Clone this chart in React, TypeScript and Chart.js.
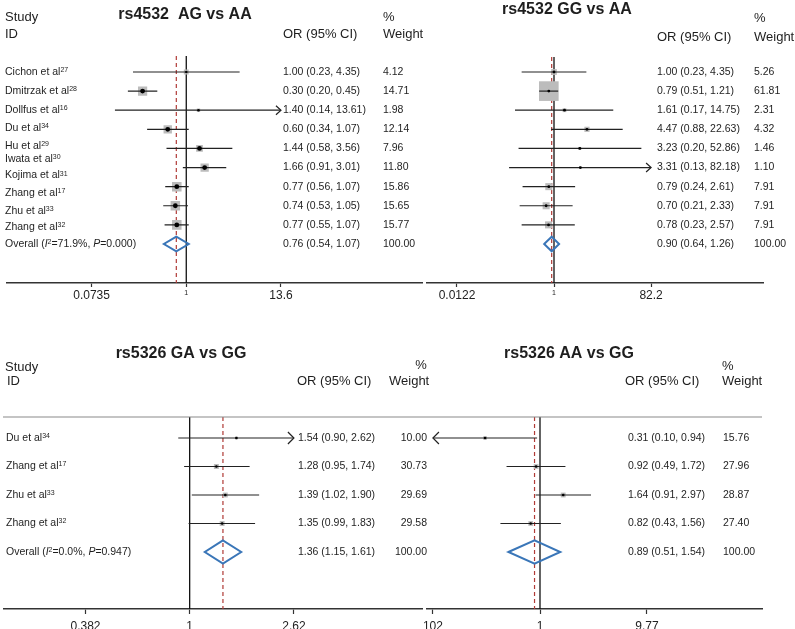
import React, { useEffect, useRef } from "react";
import { Chart, registerables } from "chart.js";

Chart.register(...registerables);

const FONT = '"Liberation Sans", Arial, Helvetica, sans-serif';
const W = 795;
const H = 660;
const AXIS_H = 24;

// ---------- Panel 1: rs4532 AG vs AA ----------
const p1Studies = ["Cichon et al", "Dmitrzak et al", "Dollfus et al", "Du et al", "Hu et al", "Iwata et al", "Kojima et al", "Zhang et al", "Zhu et al", "Zhang et al"];
const p1Refs = ["27", "28", "16", "34", "29", "30", "31", "17", "33", "32"];
const p1OR = [1.0, 0.3, 1.4, 0.6, 1.44, 1.66, 0.77, 0.74, 0.77];
const p1Lower = [0.23, 0.2, 0.14, 0.34, 0.58, 0.91, 0.56, 0.53, 0.55];
const p1Upper = [4.35, 0.45, 13.61, 1.07, 3.56, 3.01, 1.07, 1.05, 1.07];
const p1Weight = [4.12, 14.71, 1.98, 12.14, 7.96, 11.8, 15.86, 15.65, 15.77];
const p1Overall = [0.76, 0.54, 1.07];
const p1Het = ["71.9%", "0.000"];
const p1Ticks = [0.0735, 1, 13.6];
const p1TickLabels = ["0.0735", "1", "13.6"];

// ---------- Panel 2: rs4532 GG vs AA ----------
const p2OR = [1.0, 0.79, 1.61, 4.47, 3.23, 3.31, 0.79, 0.7, 0.78];
const p2Lower = [0.23, 0.51, 0.17, 0.88, 0.2, 0.13, 0.24, 0.21, 0.23];
const p2Upper = [4.35, 1.21, 14.75, 22.63, 52.86, 82.18, 2.61, 2.33, 2.57];
const p2Weight = [5.26, 61.81, 2.31, 4.32, 1.46, 1.1, 7.91, 7.91, 7.91];
const p2Overall = [0.9, 0.64, 1.26];
const p2Ticks = [0.0122, 1, 82.2];
const p2TickLabels = ["0.0122", "1", "82.2"];

// ---------- Panel 3: rs5326 GA vs GG ----------
const p3Studies = ["Du et al", "Zhang et al", "Zhu et al", "Zhang et al"];
const p3Refs = ["34", "17", "33", "32"];
const p3OR = [1.54, 1.28, 1.39, 1.35];
const p3Lower = [0.9, 0.95, 1.02, 0.99];
const p3Upper = [2.62, 1.74, 1.9, 1.83];
const p3Weight = [10.0, 30.73, 29.69, 29.58];
const p3Overall = [1.36, 1.15, 1.61];
const p3Het = ["0.0%", "0.947"];
const p3Ticks = [0.382, 1, 2.62];
const p3TickLabels = ["0.382", "1", "2.62"];

// ---------- Panel 4: rs5326 AA vs GG ----------
const p4OR = [0.31, 0.92, 1.64, 0.82];
const p4Lower = [0.1, 0.49, 0.91, 0.43];
const p4Upper = [0.94, 1.72, 2.97, 1.56];
const p4Weight = [15.76, 27.96, 28.87, 27.4];
const p4Overall = [0.89, 0.51, 1.54];
const p4Ticks = [0.102, 1, 9.77];
const p4TickLabels = ["102", "1", "9.77"];

type Seg = { t: string; sup?: boolean; it?: boolean };
type Header = { t: string; x: number; y: number; align?: CanvasTextAlign };
interface Layout {
  axisLeft: number; axisRight: number; axisY: number; areaTop: number;
  onePx: number; ppd: number; rowY0: number; rowDy: number;
  labelRows?: number[]; labelX: number; orX: number; wX: number; wAlign: CanvasTextAlign;
  boxK: number; dotR: (w: number) => number; diamondH: number;
  arrowLen: number; arrowH: number; tickLen: number; tickPad: number; smallOne: boolean;
  title: { x: number; y: number }; headers: Header[]; sep?: [number, number];
}
interface PanelDef {
  title: string; studies?: string[]; refs?: string[]; het?: string[];
  or: number[]; lo: number[]; hi: number[]; w: number[]; overall: number[];
  ticks: number[]; tickLabels: string[]; lay: Layout;
}

const panels: PanelDef[] = [
  {
    title: "rs4532  AG vs AA", studies: p1Studies, refs: p1Refs, het: p1Het,
    or: p1OR, lo: p1Lower, hi: p1Upper, w: p1Weight, overall: p1Overall,
    ticks: p1Ticks, tickLabels: p1TickLabels,
    lay: {
      axisLeft: 1, axisRight: 422, axisY: 283, areaTop: 56, onePx: 183, ppd: 84.7,
      rowY0: 72, rowDy: 19.11,
      labelRows: [0, 1, 1.99, 2.93, 3.87, 4.55, 5.42, 6.33, 7.27, 8.14, 9],
      labelX: 5, orX: 283, wX: 383, wAlign: "left",
      boxK: 2.4, dotR: (w) => (w > 5 ? 2.4 : 1.2), diamondH: 0.38,
      arrowLen: 5, arrowH: 4.5, tickLen: 4, tickPad: 1.5, smallOne: true,
      title: { x: 185, y: 19 },
      headers: [
        { t: "Study", x: 5, y: 21 }, { t: "ID", x: 5, y: 37.5 },
        { t: "OR (95% CI)", x: 283, y: 37.5 }, { t: "%", x: 383, y: 21 }, { t: "Weight", x: 383, y: 37.5 },
      ],
    },
  },
  {
    title: "rs4532 GG vs AA",
    or: p2OR, lo: p2Lower, hi: p2Upper, w: p2Weight, overall: p2Overall,
    ticks: p2Ticks, tickLabels: p2TickLabels,
    lay: {
      axisLeft: 427, axisRight: 763, axisY: 283, areaTop: 57, onePx: 554, ppd: 50.7,
      rowY0: 72, rowDy: 19.11,
      labelX: 0, orX: 657, wX: 754, wAlign: "left",
      boxK: 2.5, dotR: () => 1.4, diamondH: 0.38,
      arrowLen: 5, arrowH: 4.5, tickLen: 4, tickPad: 1.5, smallOne: true,
      title: { x: 567, y: 13.5 },
      headers: [
        { t: "OR (95% CI)", x: 657, y: 41 }, { t: "%", x: 754, y: 21.5 }, { t: "Weight", x: 754, y: 41 },
      ],
    },
  },
  {
    title: "rs5326 GA vs GG", studies: p3Studies, refs: p3Refs, het: p3Het,
    or: p3OR, lo: p3Lower, hi: p3Upper, w: p3Weight, overall: p3Overall,
    ticks: p3Ticks, tickLabels: p3TickLabels,
    lay: {
      axisLeft: 1, axisRight: 422, axisY: 609, areaTop: 417, onePx: 188, ppd: 251,
      rowY0: 438, rowDy: 28.5,
      labelRows: [0, 1, 2, 3, 4],
      labelX: 6, orX: 298, wX: 427, wAlign: "right",
      boxK: 0.9, dotR: () => 1.3, diamondH: 0.41,
      arrowLen: 6, arrowH: 6, tickLen: 5, tickPad: 5, smallOne: false,
      title: { x: 181, y: 358 },
      headers: [
        { t: "Study", x: 5, y: 371 }, { t: "ID", x: 7, y: 385 },
        { t: "OR (95% CI)", x: 297, y: 385 }, { t: "%", x: 421, y: 368.5, align: "center" },
        { t: "Weight", x: 389, y: 384.5 },
      ],
      sep: [3, 427],
    },
  },
  {
    title: "rs5326 AA vs GG",
    or: p4OR, lo: p4Lower, hi: p4Upper, w: p4Weight, overall: p4Overall,
    ticks: p4Ticks, tickLabels: p4TickLabels,
    lay: {
      axisLeft: 427, axisRight: 762, axisY: 609, areaTop: 417, onePx: 540, ppd: 108,
      rowY0: 438, rowDy: 28.5,
      labelX: 0, orX: 628, wX: 723, wAlign: "left",
      boxK: 0.9, dotR: () => 1.3, diamondH: 0.41,
      arrowLen: 6, arrowH: 6, tickLen: 5, tickPad: 5, smallOne: false,
      title: { x: 569, y: 358 },
      headers: [
        { t: "OR (95% CI)", x: 625, y: 385 }, { t: "%", x: 722, y: 369.5 }, { t: "Weight", x: 722, y: 385 },
      ],
      sep: [427, 762],
    },
  },
];

function drawRich(ctx: CanvasRenderingContext2D, segs: Seg[], x: number, y: number, size: number) {
  let cx = x;
  ctx.textAlign = "left";
  ctx.textBaseline = "middle";
  for (const s of segs) {
    const fs = s.sup ? 7 : size;
    ctx.font = `${s.it ? "italic " : ""}${fs}px ${FONT}`;
    ctx.fillText(s.t, cx, s.sup ? y - 2 : y);
    cx += ctx.measureText(s.t).width;
  }
}

function fmtCI(o: number, l: number, h: number) {
  return `${o.toFixed(2)} (${l.toFixed(2)}, ${h.toFixed(2)})`;
}

function makeConfig(p: PanelDef): any {
  const L = p.lay;
  const xMin = Math.pow(10, (L.axisLeft - L.onePx) / L.ppd);
  const xMax = Math.pow(10, (L.axisRight - L.onePx) / L.ppd);
  const yMin = (L.areaTop - L.rowY0) / L.rowDy;
  const yMax = (L.axisY - L.rowY0) / L.rowDy;
  const n = p.or.length;
  const tMin = p.ticks[0];
  const tMax = p.ticks[p.ticks.length - 1];
  const [oOR, oLo, oHi] = p.overall;

  const datasets: any[] = [];
  datasets.push({
    data: [{ x: 1, y: yMin }, { x: 1, y: yMax }], showLine: true,
    borderColor: "#111", borderWidth: 1.3, pointRadius: 0, order: 6,
  });
  datasets.push({
    data: [{ x: oOR, y: yMin }, { x: oOR, y: yMax }], showLine: true,
    borderColor: "#b03a36", borderWidth: 1.2, borderDash: [4, 3], pointRadius: 0, order: 5,
  });
  datasets.push({
    data: p.or.map((v, i) => ({ x: v, y: i })), showLine: false, pointStyle: "rect",
    pointRadius: (c: any) => (L.boxK * Math.sqrt(p.w[c.dataIndex ?? 0])) / Math.SQRT2,
    pointBackgroundColor: "#bcbcbc", backgroundColor: "#bcbcbc", pointBorderWidth: 0, borderWidth: 0, order: 4,
  });
  p.or.forEach((_, i) => {
    datasets.push({
      data: [{ x: Math.max(p.lo[i], tMin), y: i }, { x: Math.min(p.hi[i], tMax), y: i }],
      showLine: true, borderColor: "#222", borderWidth: 1.2, pointRadius: 0, order: 3,
    });
  });
  datasets.push({
    data: p.or.map((v, i) => ({ x: v, y: i })), showLine: false, pointStyle: "circle",
    pointRadius: (c: any) => L.dotR(p.w[c.dataIndex ?? 0]),
    pointBackgroundColor: "#000", backgroundColor: "#000", pointBorderWidth: 0, borderWidth: 0, order: 2,
  });
  datasets.push({
    data: [
      { x: oLo, y: n }, { x: oOR, y: n - L.diamondH }, { x: oHi, y: n },
      { x: oOR, y: n + L.diamondH }, { x: oLo, y: n }, { x: oOR, y: n - L.diamondH },
    ],
    showLine: true, borderColor: "#3a76b8", borderWidth: 2, borderJoinStyle: "miter",
    pointRadius: 0, order: 1, tension: 0,
  });

  const decor = {
    id: "forestDecor",
    afterDatasetsDraw(chart: any) {
      const ctx: CanvasRenderingContext2D = chart.ctx;
      const xs = chart.scales.x;
      const ys = chart.scales.y;
      ctx.save();
      ctx.strokeStyle = "#222";
      ctx.lineWidth = 1.2;
      const chevron = (px: number, py: number, dir: number) => {
        ctx.beginPath();
        ctx.moveTo(px - dir * L.arrowLen, py - L.arrowH);
        ctx.lineTo(px, py);
        ctx.lineTo(px - dir * L.arrowLen, py + L.arrowH);
        ctx.stroke();
      };
      p.or.forEach((_, i) => {
        const py = ys.getPixelForValue(i);
        if (p.hi[i] >= tMax * 0.995) chevron(xs.getPixelForValue(tMax), py, 1);
        if (p.lo[i] <= tMin * 1.005) chevron(xs.getPixelForValue(tMin), py, -1);
      });
      ctx.restore();
    },
    afterDraw(chart: any) {
      const ctx: CanvasRenderingContext2D = chart.ctx;
      const ys = chart.scales.y;
      ctx.save();
      ctx.fillStyle = "#1e1e1e";
      ctx.font = `bold 16px ${FONT}`;
      ctx.textAlign = "center";
      ctx.textBaseline = "alphabetic";
      ctx.fillText(p.title, L.title.x, L.title.y);
      ctx.font = `13px ${FONT}`;
      for (const h of L.headers) {
        ctx.textAlign = h.align || "left";
        ctx.fillText(h.t, h.x, h.y);
      }
      if (L.sep) {
        ctx.strokeStyle = "#8a8a8a";
        ctx.lineWidth = 1.2;
        ctx.beginPath();
        ctx.moveTo(L.sep[0], chart.chartArea.top);
        ctx.lineTo(L.sep[1], chart.chartArea.top);
        ctx.stroke();
      }
      ctx.font = `10.5px ${FONT}`;
      ctx.textBaseline = "middle";
      for (let i = 0; i <= n; i++) {
        const py = ys.getPixelForValue(i);
        const txt = i < n ? fmtCI(p.or[i], p.lo[i], p.hi[i]) : fmtCI(oOR, oLo, oHi);
        const wt = i < n ? p.w[i].toFixed(2) : "100.00";
        ctx.textAlign = "left";
        ctx.fillText(txt, L.orX, py);
        ctx.textAlign = L.wAlign;
        ctx.fillText(wt, L.wX, py);
      }
      if (p.studies && p.refs && p.het && L.labelRows) {
        const rows = L.labelRows;
        p.studies.forEach((s, j) => {
          drawRich(ctx, [{ t: s }, { t: p.refs![j], sup: true }], L.labelX, ys.getPixelForValue(rows[j]), 10.5);
        });
        drawRich(
          ctx,
          [
            { t: "Overall (" }, { t: "I", it: true }, { t: "2", sup: true },
            { t: `=${p.het[0]}, ` }, { t: "P", it: true }, { t: `=${p.het[1]})` },
          ],
          L.labelX,
          ys.getPixelForValue(rows[rows.length - 1]),
          10.5
        );
      }
      ctx.restore();
    },
  };

  return {
    type: "scatter",
    data: { datasets },
    options: {
      animation: false,
      responsive: false,
      maintainAspectRatio: false,
      devicePixelRatio: 1,
      events: [],
      layout: {
        padding: {
          left: L.axisLeft,
          right: W - L.axisRight,
          top: L.areaTop,
          bottom: H - L.axisY - AXIS_H,
        },
      },
      plugins: { legend: { display: false }, tooltip: { enabled: false }, title: { display: false } },
      scales: {
        x: {
          type: "logarithmic",
          position: "bottom",
          min: xMin,
          max: xMax,
          bounds: "data",
          afterBuildTicks: (s: any) => {
            s.ticks = p.ticks.map((v) => ({ value: v }));
          },
          afterFit: (s: any) => {
            s.height = AXIS_H;
          },
          grid: {
            display: true, drawOnChartArea: false, drawTicks: true,
            tickLength: L.tickLen, color: "#333", tickColor: "#333", tickWidth: 1.2,
          },
          border: { display: true, color: "#333", width: 1.6 },
          ticks: {
            autoSkip: false, maxRotation: 0, minRotation: 0, padding: L.tickPad, color: "#222",
            font: (c: any) => ({ family: FONT, size: L.smallOne && c.index === 1 ? 7 : 12 }),
            callback: (_v: any, i: number) => p.tickLabels[i],
          },
        },
        y: { type: "linear", reverse: true, min: yMin, max: yMax, display: false },
      },
    },
    plugins: [decor],
  };
}

function Panel({ def }: { def: PanelDef }) {
  const ref = useRef<HTMLCanvasElement | null>(null);
  useEffect(() => {
    if (!ref.current) return;
    const chart = new Chart(ref.current, makeConfig(def));
    return () => chart.destroy();
  }, [def]);
  return (
    <canvas
      ref={ref}
      width={W}
      height={H}
      style={{ position: "absolute", left: 0, top: 0, width: W, height: H }}
    />
  );
}

export default function App() {
  return (
    <div
      style={{
        position: "absolute", left: 0, top: 0, width: W, height: 629,
        overflow: "hidden", background: "#fff",
      }}
    >
      {panels.map((d, i) => (
        <Panel key={i} def={d} />
      ))}
    </div>
  );
}
